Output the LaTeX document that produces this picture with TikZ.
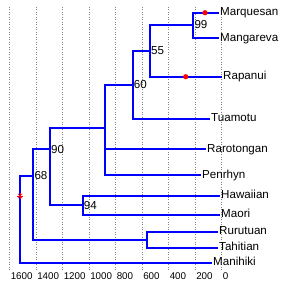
\documentclass[tikz,border=0pt]{standalone}
\usepackage{fontspec}
\setmainfont{Liberation Sans}
\usetikzlibrary{arrows}

\begin{document}
\begin{tikzpicture}[x=1pt,y=1pt,
  branch/.style={blue,line width=2pt},
  leaf/.style={anchor=west,inner sep=1pt,text height=8.5pt,text depth=2.5pt,
    font=\fontsize{11.6}{12}\selectfont},
  support/.style={anchor=west,inner sep=1pt,font=\fontsize{11.6}{12}\selectfont},
  tick/.style={anchor=west,inner sep=0pt,font=\fontsize{9.8}{10}\selectfont},
  gridline/.style={gray,dotted,line width=0.5pt},
  dot/.style={circle,fill=red,inner sep=0pt,minimum size=5.2pt}]
\useasboundingbox (0,0) rectangle (284,284);
\foreach \t in {0,200,...,1600} {
  \coordinate (g\t) at ({221.3-0.1325*\t},277);
  \draw[gridline] (g\t) -- ++(0,-263);
  \node[tick] (t\t) at ({222.6-0.1325*\t},7.5) {\t};
}
\coordinate (root) at (20,88);
\coordinate (n68) at (33.3,108);
\coordinate (n90) at (50,134.7);
\coordinate (nx) at (105.3,156);
\coordinate (n60) at (132.7,199);
\coordinate (n55) at (150,233);
\coordinate (n99) at (193.3,259);
\coordinate (n94) at (82.7,78.7);
\coordinate (nrt) at (146.7,44);
\node[leaf] (marquesan) at (219,271.3) {Marquesan};
\node[leaf] (mangareva) at (219,245.7) {Mangareva};
\node[leaf] (rapanui) at (222,207.3) {Rapanui};
\node[leaf] (tuamotu) at (210,165) {Tuamotu};
\node[leaf] (rarotongan) at (206,134.7) {Rarotongan};
\node[leaf] (penrhyn) at (201,108.7) {Penrhyn};
\node[leaf] (hawaiian) at (220,88) {Hawaiian};
\node[leaf] (maori) at (220,69.3) {Maori};
\node[leaf] (rurutuan) at (218,52) {Rurutuan};
\node[leaf] (tahitian) at (218,36) {Tahitian};
\node[leaf] (manihiki) at (212,21) {Manihiki};
\draw[branch] (root) |- (n68);
\draw[branch] (root) |- (manihiki.west);
\draw[branch] (n68) |- (n90);
\draw[branch] (n68) |- (nrt);
\draw[branch] (n90) |- (nx);
\draw[branch] (n90) |- (n94);
\draw[branch] (nx) |- (n60);
\draw[branch] (nx) |- (rarotongan.west);
\draw[branch] (nx) |- (penrhyn.west);
\draw[branch] (n60) |- (n55);
\draw[branch] (n60) |- (tuamotu.west);
\draw[branch] (n55) |- (n99);
\draw[branch] (n55) |- (rapanui.west);
\draw[branch] (n99) |- (marquesan.west);
\draw[branch] (n99) |- (mangareva.west);
\draw[branch] (n94) |- (hawaiian.west);
\draw[branch] (n94) |- (maori.west);
\draw[branch] (nrt) |- (rurutuan.west);
\draw[branch] (nrt) |- (tahitian.west);
\node[dot] (m1) at (205,271.3) {};
\node[dot] (m2) at (185.7,207.3) {};
\foreach \a in {0,45,90,135}
  \draw[red,line width=0.6pt] (root) ++(\a:3.2) -- ++(\a+180:6.4);
\node[support] (l99) at (n99) {99};
\node[support] (l55) at (n55) {55};
\node[support] (l60) at (n60) {60};
\node[support] (l90) at (n90) {90};
\node[support] (l94) at (n94) {94};
\node[support] (l68) at (n68) {68};
\end{tikzpicture}
\end{document}
